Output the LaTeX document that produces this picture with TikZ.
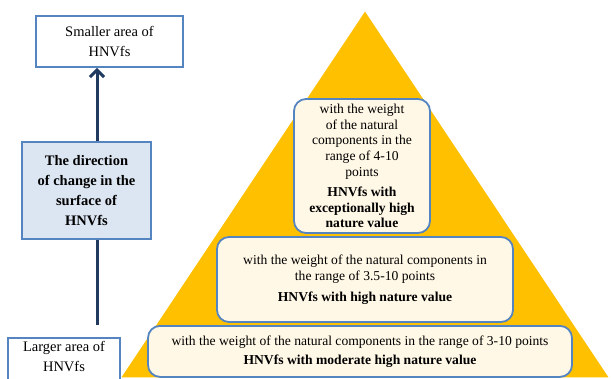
\documentclass[tikz,border=0pt]{standalone}
\usepackage{fontspec}
\setmainfont{Liberation Serif}
\usetikzlibrary{arrows.meta}
\definecolor{pyellow}{HTML}{FFC000}
\definecolor{bblue}{HTML}{5585C0}
\definecolor{cream}{HTML}{FFF8E6}
\definecolor{lblue}{HTML}{DCE6F2}
\definecolor{navy}{HTML}{213A5F}
\tikzset{
  sidebox/.style={draw=bblue, line width=1.8pt, fill=white, align=center, inner sep=2pt,
    font=\fontsize{14.5}{20}\selectfont},
  levelbox/.style={draw=bblue, line width=1.8pt, fill=cream, rounded corners=12pt, align=center,
    inner sep=2pt, font=\fontsize{13.6}{15.8}\selectfont},
  conn/.style={draw=navy, line width=3pt}
}
\begin{document}
\begin{tikzpicture}[x=1pt,y=-1pt]
\useasboundingbox (0,0) rectangle (612,378);
\clip (0,0) rectangle (612,378);
% pyramid
\fill[pyellow, draw=white, line width=1.5pt] (365,10) -- (610,378) -- (120,378) -- cycle;
% side boxes
\node[sidebox, minimum width=147pt, minimum height=51pt] (small) at (109.5,41.5) {Smaller area of\\HNVfs};
\node[sidebox, fill=lblue, minimum width=129pt, minimum height=97pt, font=\fontsize{14.5}{19.8}\selectfont\bfseries] (dir) at (86.5,190.5) {The direction\\of change in the\\surface of\\HNVfs};
\node[sidebox, minimum width=112pt, anchor=north, inner ysep=3pt, text depth=18pt] (large) at (64,337) {Larger area of\\HNVfs};
\coordinate (lineend) at (97,325);
\draw[conn, -{Straight Barb[length=7pt,width=14pt,line width=3pt]}] (dir.north -| 97,0) -- (small.south -| 97,0);
\draw[conn] (dir.south -| 97,0) -- (lineend);
% levels
\node[levelbox, minimum width=136pt, minimum height=134pt] (top) at (362,166) {with the weight\\of the natural\\components in the\\range of 4-10\\points\\[4pt]\textbf{HNVfs with}\\\textbf{exceptionally high}\\\textbf{nature value}};
\node[levelbox, minimum width=296pt, minimum height=85pt] (mid) at (365,279.5) {with the weight of the natural components in\\the range of 3.5-10 points\\[5pt]\textbf{HNVfs with high nature value}};
\node[levelbox, minimum width=424pt, minimum height=51pt, anchor=north] (bot) at (360,325) {with the weight of the natural components in the range of 3-10 points\\[3pt]\textbf{HNVfs with moderate high nature value}};
\end{tikzpicture}
\end{document}
